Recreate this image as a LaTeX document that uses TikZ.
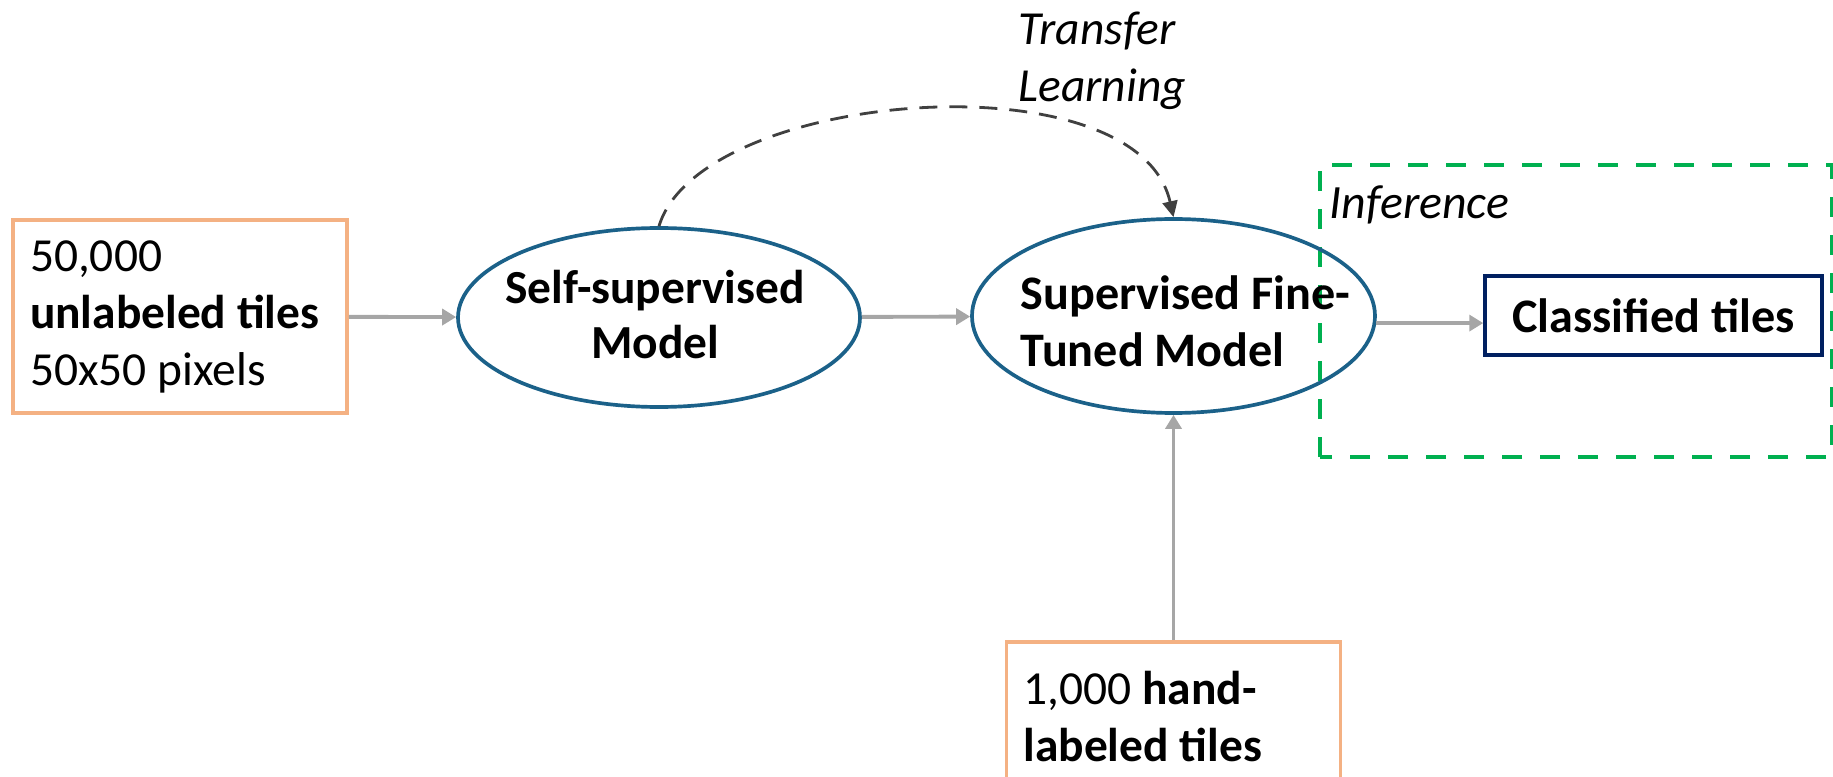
\documentclass[tikz,border=0pt]{standalone}
\usepackage{fontspec}
\setmainfont{Carlito}
\usetikzlibrary{arrows.meta, positioning, shapes.geometric}
\definecolor{mOrange}{HTML}{F4B183}
\definecolor{mBlue}{HTML}{1B6189}
\definecolor{mNavy}{HTML}{002060}
\definecolor{mGreen}{HTML}{00B050}
\definecolor{mGray}{HTML}{A6A6A6}
\definecolor{mDark}{HTML}{404040}
\tikzset{
  tilebox/.style={draw=mOrange, line width=1.1pt, align=flush left, inner xsep=0.17cm, text width=3.0cm},
  modelell/.style={draw=mBlue, ellipse, line width=1.05pt, minimum width=4.02cm},
  flow/.style={draw=mGray, line width=1.1pt, -{Triangle[length=0.14cm, width=0.16cm]}}
}

\begin{document}
\begin{tikzpicture}[every node/.style={font=\fontsize{13.5}{16.2}\selectfont}]
    \useasboundingbox (0,0) rectangle (18.33,7.76);
    % inference frame
    \draw[mGreen, line width=1.1pt, dash pattern=on 0.2cm off 0.18cm] (13.20,3.19) rectangle (18.32,6.11);
    \node[anchor=base west, inner sep=0pt, font=\fontsize{13.6}{16}\selectfont\itshape] (inflbl) at (13.29,5.57) {Inference};

    \node[tilebox, minimum height=1.93cm] (unlab) at (1.80,4.595) {50,000\\\textbf{unlabeled tiles}\\50x50 pixels};
    \node[modelell, minimum height=1.79cm] (ssl) at (6.59,4.585) {};
    \node[align=center, inner sep=0pt, font=\fontsize{13.5}{15.6}\selectfont\bfseries] (ssltxt) at (6.55,4.615) {Self-supervised\\Model};
    \node[modelell, minimum width=4.03cm, minimum height=1.94cm] (sft) at (11.735,4.60) {};
    \node[anchor=west, align=left, inner sep=0pt, font=\fontsize{13.7}{16.2}\selectfont\bfseries] (sfttxt) at (10.20,4.545) {Supervised Fine-\\Tuned Model};
    \node[draw=mNavy, line width=1pt, minimum width=3.37cm, minimum height=0.79cm, font=\fontsize{13.7}{16.2}\selectfont\bfseries] (cls) at (16.535,4.605) {Classified tiles};
    \node[tilebox, anchor=north, minimum height=1.5cm] (hand) at (11.735,1.36) {1,000 \textbf{hand-}\\\textbf{labeled tiles}};
    \node[anchor=north west, align=left, inner sep=0pt, font=\fontsize{13.5}{16.2}\selectfont\itshape] (translbl) at (10.18,7.65) {Transfer\\Learning};

    % connectors
    \draw[flow] (unlab) -- (ssl);
    \draw[flow] (ssl) -- (sft);
    \draw[flow] (sft.-2) -- (sft.-2 -| cls.west);
    \draw[flow] (hand) -- (sft);
    \draw[mDark, line width=0.8pt, dash pattern=on 0.18cm off 0.12cm, -{Triangle[length=0.16cm, width=0.15cm]}] (ssl.north) .. controls (7.00,6.86) and (11.37,7.21) .. (sft.north);
\end{tikzpicture}
\end{document}
